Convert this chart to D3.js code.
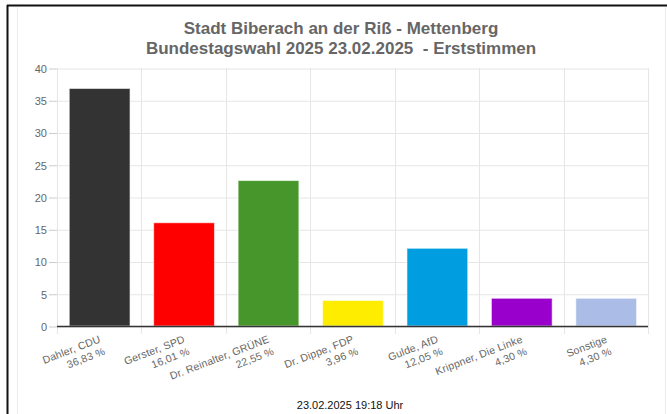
<!DOCTYPE html>
<html>
<head>
<meta charset="utf-8">
<script src="https://cdn.jsdelivr.net/npm/d3@7"></script>
<style>
  body { margin: 0; background: #fff; }
  svg { display: block; font-family: "Liberation Sans", Arial, sans-serif; }
  .grid line { stroke: #e6e6e6; }
  .grid path { display: none; }
  .y-axis path { display: none; }
  .y-axis line { stroke: #ccc; }
  .y-axis text { fill: #666; font-size: 11px; }
  .x-label { fill: #666; font-size: 10.5px; }
</style>
</head>
<body>
<svg width="667" height="414"></svg>
<script>
// data
var candidates = ['Dahler, CDU', 'Gerster, SPD', 'Dr. Reinalter, GRÜNE', 'Dr. Dippe, FDP', 'Gulde, AfD', 'Krippner, Die Linke', 'Sonstige'];
var shares = [36.83, 16.01, 22.55, 3.96, 12.05, 4.30, 4.30];
var barColors = ['#333333', '#ff0000', '#46962b', '#ffed00', '#009ee0', '#9900cc', '#abbde6'];
var yTicks = [0, 5, 10, 15, 20, 25, 30, 35, 40];
var titleLines = ['Stadt Biberach an der Riß - Mettenberg', 'Bundestagswahl 2025 23.02.2025  - Erststimmen'];
var footer = '23.02.2025 19:18 Uhr';

var svg = d3.select('svg');

// outer frame: black top/left, light grey inner lines
svg.append('line').attr('x1', 7).attr('x2', 667).attr('y1', 5.5).attr('y2', 5.5)
    .attr('stroke', '#111').attr('stroke-width', 2);
svg.append('line').attr('x1', 7.5).attr('x2', 7.5).attr('y1', 5).attr('y2', 414)
    .attr('stroke', '#111').attr('stroke-width', 2);
svg.append('line').attr('x1', 17.5).attr('x2', 17.5).attr('y1', 7).attr('y2', 414)
    .attr('stroke', '#ececec');
svg.append('line').attr('x1', 665.5).attr('x2', 665.5).attr('y1', 7).attr('y2', 414)
    .attr('stroke', '#ececec');

var plot = {l: 57, r: 648, t: 68, b: 326};

var x = d3.scaleBand()
    .domain(candidates)
    .range([plot.l, plot.r]);

var y = d3.scaleLinear()
    .domain([0, 40])
    .range([plot.b, plot.t]);

// horizontal grid
svg.append('g')
    .attr('class', 'grid')
    .attr('transform', 'translate(' + plot.l + ',0)')
    .call(d3.axisLeft(y).tickValues(yTicks).tickSize(-(plot.r - plot.l)).tickFormat(''))
    .selectAll('line').attr('transform', 'translate(0,0.5)');

// vertical grid at band edges, extending a bit below as ticks
var edges = candidates.map(function(c) { return x(c); }).concat([plot.r]);
svg.append('g')
    .attr('class', 'grid')
    .selectAll('line')
    .data(edges)
    .enter()
    .append('line')
    .attr('x1', function(d) { return Math.round(d) + 0.5; })
    .attr('x2', function(d) { return Math.round(d) + 0.5; })
    .attr('y1', plot.t)
    .attr('y2', plot.b + 8);

// y axis labels and ticks
var yAxis = svg.append('g')
    .attr('class', 'y-axis')
    .attr('transform', 'translate(' + plot.l + ',0.5)')
    .call(d3.axisLeft(y).tickValues(yTicks).tickSize(8).tickPadding(2));
yAxis.selectAll('text').attr('dy', '0.35em');

// bars
var bw = x.bandwidth();
svg.selectAll('.bar')
    .data(shares)
    .enter()
    .append('rect')
    .attr('class', 'bar')
    .attr('x', function(d, i) { return x(candidates[i]) + bw * 0.145; })
    .attr('width', bw * 0.72)
    .attr('y', function(d) { return y(d); })
    .attr('height', function(d) { return y(0) - y(d); })
    .attr('fill', function(d, i) { return barColors[i]; })
    .attr('stroke', '#fff')
    .attr('stroke-opacity', 0.6);

// baseline
svg.append('line')
    .attr('x1', plot.l).attr('x2', plot.r)
    .attr('y1', y(0) + 0.5).attr('y2', y(0) + 0.5)
    .attr('stroke', '#333').attr('stroke-width', 1.3);

// rotated category labels, two lines
var labels = svg.selectAll('.x-label')
    .data(candidates)
    .enter()
    .append('text')
    .attr('class', 'x-label')
    .attr('text-anchor', 'end')
    .attr('letter-spacing', 0.2)
    .attr('transform', function(d) {
        return 'translate(' + (x(d) + bw / 2 + 2) + ',' + (plot.b + 16) + ') rotate(-21)';
    });
labels.append('tspan').attr('x', 0).attr('y', 0).text(function(d) { return d; });
labels.append('tspan').attr('x', 0).attr('dy', 13)
    .text(function(d, i) { return shares[i].toFixed(2).replace('.', ',') + ' %'; });

// title
svg.selectAll('.title')
    .data(titleLines)
    .enter()
    .append('text')
    .attr('class', 'title')
    .attr('x', 341)
    .attr('y', function(d, i) { return 34 + i * 20; })
    .attr('text-anchor', 'middle')
    .attr('fill', '#666')
    .style('font-size', '17px')
    .style('font-weight', 'bold')
    .style('white-space', 'pre')
    .text(function(d) { return d; });

// footer
svg.append('text')
    .attr('x', 350)
    .attr('y', 409)
    .attr('text-anchor', 'middle')
    .attr('fill', '#111')
    .style('font-size', '11px')
    .text(footer);
</script>
</body>
</html>
